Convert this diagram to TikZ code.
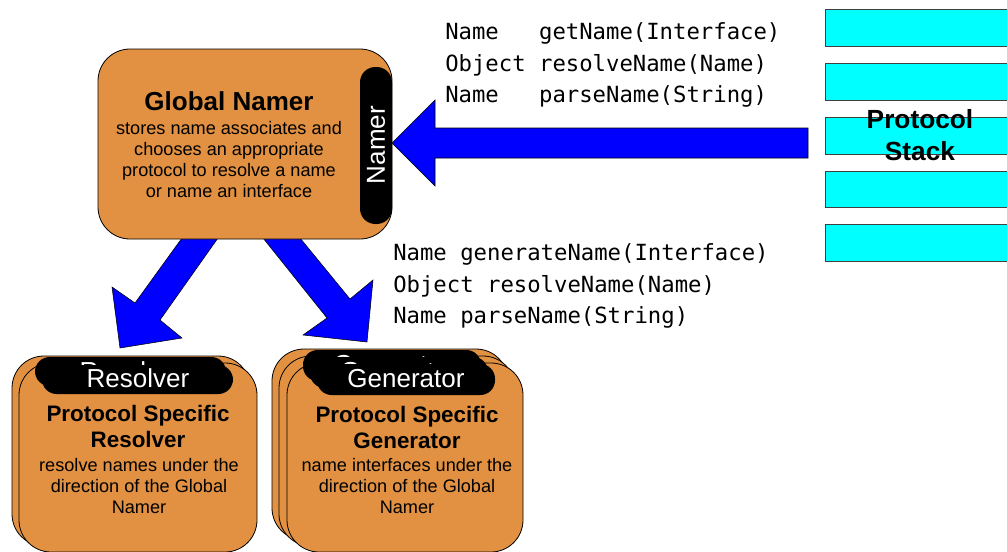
\documentclass[tikz,border=0pt]{standalone}
\usepackage{fontspec}
\setmainfont{Liberation Sans}
\newfontfamily\codefont{DejaVu Sans Mono}
\definecolor{cardfill}{RGB}{225,145,65}
\definecolor{arrowblue}{RGB}{0,0,255}
\definecolor{layercyan}{RGB}{0,255,255}

\begin{document}
\begin{tikzpicture}[x=0.75pt,y=-0.75pt,
  card/.style={draw=black, line width=0.6pt, fill=cardfill, rounded corners=24pt},
  tabbox/.style={fill=black, rounded corners=11pt},
  tablabel/.style={text=white, inner sep=0pt, font=\fontsize{19.5}{22}\selectfont},
  bigarrow/.style={draw=black, line width=0.4pt, fill=arrowblue, line join=miter},
  layer/.style={draw=black!75, line width=0.6pt, fill=layercyan},
  heading/.style={inner sep=0pt, align=center, font=\bfseries\fontsize{16.8}{19.5}\selectfont},
  desc/.style={inner sep=0pt, align=center, font=\fontsize{13.6}{15.75}\selectfont},
  code/.style={inner sep=0pt, anchor=base west, font=\codefont\fontsize{16.7}{20}\selectfont}]

\useasboundingbox (0,0) rectangle (1007,551);

% protocol stack layers
\draw[layer] (825,9) rectangle (1015,46);
\draw[layer] (825,63) rectangle (1015,100);
\draw[layer] (825,117) rectangle (1015,154);
\draw[layer] (825,171) rectangle (1015,207);
\draw[layer] (825,224) rectangle (1015,261);
\node[inner sep=0pt, align=center, font=\bfseries\fontsize{19.7}{24}\selectfont] (stack) at (920,135) {Protocol\\Stack};

% block arrows
\draw[bigarrow] (392,143) -- (435,100) -- (435,128) -- (808,128) -- (808,158)
  -- (435,158) -- (435,186) -- cycle;
\draw[bigarrow] (182,238) -- (218,238) -- (160,320) -- (182,338) -- (120,348)
  -- (112,287) -- (135,303) -- cycle;
\draw[bigarrow] (263,238) -- (300,238) -- (350,299) -- (373,280) -- (367,342)
  -- (303,335) -- (327,318) -- cycle;

% global namer
\draw[card] (98,49) rectangle (392,239);
\fill[black, rounded corners=11.5pt] (360,67) rectangle (392,224);
\node[tablabel, rotate=90] (namertab) at (376,145) {Namer};
\node[inner sep=0pt, font=\bfseries\fontsize{19.5}{22}\selectfont] (gtitle) at (229,101) {Global Namer};
\node[desc] (gdesc) at (229,160) {stores name associates and\\chooses an appropriate\\protocol to resolve a name\\or name an interface};

% interface method lists
\node[code] (m1) at (445,39.5) {Name\ \ \ getName(Interface)};
\node[code] (m2) at (445,71) {Object resolveName(Name)};
\node[code] (m3) at (445,102.5) {Name\ \ \ parseName(String)};
\node[code] (g1) at (393,260.5) {Name generateName(Interface)};
\node[code] (g2) at (393,292.5) {Object resolveName(Name)};
\node[code] (g3) at (393,323.5) {Name parseName(String)};

% resolver stack
\draw[card] (12,356) rectangle (250,546);
\draw[card] (19,363) rectangle (257,552);
\fill[tabbox] (35,357) rectangle (226,386);
\node[tablabel] (rtab2) at (131,371) {Resolver};
\fill[tabbox] (42,365) rectangle (233,394);
\node[tablabel] (rtab) at (138,378) {Resolver};
\node[heading] (rtitle) at (138,426) {Protocol Specific\\Resolver};
\node[desc] (rdesc) at (139,486) {resolve names under the\\direction of the Global\\Namer};

% generator stack
\draw[card] (272,349) rectangle (508,540);
\draw[card] (279,356) rectangle (515,546);
\draw[card] (287,363) rectangle (523,552);
\fill[tabbox] (303,350) rectangle (481,381);
\node[tablabel] (gtab3) at (392,365) {Generator};
\fill[tabbox] (310,357) rectangle (488,388);
\node[tablabel] (gtab2) at (399,372) {Generator};
\fill[tabbox] (317,364) rectangle (495,395);
\node[tablabel] (gtab) at (406,379) {Generator};
\node[heading] (gentitle) at (407,427) {Protocol Specific\\Generator};
\node[desc] (gendesc) at (407,486) {name interfaces under the\\direction of the Global\\Namer};

\end{tikzpicture}
\end{document}
